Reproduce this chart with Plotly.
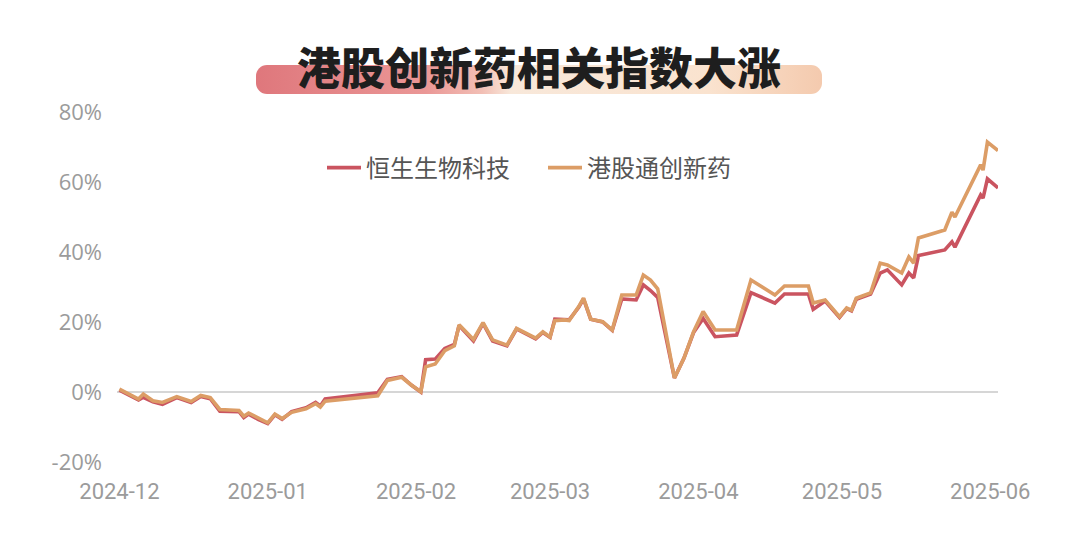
import base64
import plotly.graph_objects as go

# ---- data ----
dates = [
    "2024-12-01", "2024-12-05", "2024-12-06", "2024-12-08", "2024-12-10", "2024-12-13",
    "2024-12-16", "2024-12-18", "2024-12-20", "2024-12-22", "2024-12-26", "2024-12-27",
    "2024-12-28", "2024-12-30", "2025-01-01", "2025-01-02 12:00", "2025-01-04", "2025-01-06",
    "2025-01-09", "2025-01-11", "2025-01-12", "2025-01-13", "2025-01-24", "2025-01-26",
    "2025-01-29", "2025-01-31", "2025-02-02", "2025-02-03", "2025-02-05", "2025-02-07",
    "2025-02-09", "2025-02-10", "2025-02-13", "2025-02-15", "2025-02-17", "2025-02-20",
    "2025-02-22", "2025-02-26", "2025-02-27 12:00", "2025-03-01", "2025-03-02", "2025-03-04",
    "2025-03-05", "2025-03-07", "2025-03-08", "2025-03-09 12:00", "2025-03-12", "2025-03-14",
    "2025-03-16", "2025-03-19", "2025-03-20 12:00", "2025-03-22", "2025-03-23 12:00", "2025-03-27",
    "2025-03-28", "2025-03-29", "2025-03-31", "2025-04-02", "2025-04-04 12:00", "2025-04-09",
    "2025-04-12", "2025-04-17", "2025-04-19", "2025-04-24", "2025-04-25", "2025-04-27 12:00",
    "2025-04-30 12:00", "2025-05-02", "2025-05-03", "2025-05-04", "2025-05-07", "2025-05-09",
    "2025-05-10 12:00", "2025-05-13 12:00", "2025-05-15", "2025-05-16", "2025-05-17", "2025-05-22 12:00",
    "2025-05-24", "2025-05-24 15:00", "2025-05-30", "2025-05-30 12:00", "2025-05-31 10:00", "2025-06-02 15:00",
]
hs_biotech = [
    0.5, -2.3, -1.5, -2.8, -3.5, -1.6,
    -3.0, -1.3, -1.9, -5.5, -5.6, -7.3,
    -6.3, -7.8, -9.0, -6.5, -7.8, -5.6,
    -4.5, -3.0, -4.0, -2.0, -0.2, 3.6,
    4.4, 2.0, 0.0, 9.2, 9.4, 12.4,
    13.6, 19.0, 14.6, 19.6, 14.6, 13.2,
    18.0, 15.2, 17.0, 15.6, 20.8, 20.8,
    20.6, 24.2, 26.6, 20.8, 20.0, 17.6,
    26.6, 26.3, 30.6, 29.0, 27.0, 4.0,
    7.1, 9.7, 17.0, 21.0, 15.8, 16.3,
    28.4, 25.4, 28.0, 28.0, 23.6, 26.0,
    21.3, 23.8, 23.2, 26.5, 28.0, 34.0,
    34.9, 30.6, 34.0, 32.6, 39.0, 40.6,
    42.9, 41.4, 56.3, 55.4, 60.9, 58.3,
]
hk_innov_drug = [
    0.8, -2.0, -0.6, -2.5, -3.0, -1.3,
    -2.7, -1.0, -1.6, -5.0, -5.3, -6.9,
    -6.0, -7.4, -8.8, -6.3, -7.6, -5.8,
    -4.8, -3.3, -4.3, -2.6, -1.1, 3.3,
    4.2, 2.0, 0.1, 7.2, 8.0, 11.8,
    13.2, 19.2, 15.0, 19.8, 14.9, 13.4,
    18.2, 15.4, 17.2, 15.7, 20.4, 20.6,
    20.4, 24.4, 26.8, 20.8, 20.1, 17.7,
    27.7, 27.7, 33.4, 32.0, 29.5, 4.0,
    7.1, 9.7, 17.2, 23.0, 17.7, 17.7,
    32.0, 27.7, 30.3, 30.3, 25.4, 26.3,
    21.5, 24.0, 23.4, 26.8, 28.3, 36.8,
    36.3, 34.0, 38.6, 36.8, 44.0, 46.3,
    51.4, 50.0, 64.9, 63.4, 71.4, 69.0,
]
series_names = ["恒生生物科技", "港股通创新药"]
month_ticks = ["2024-12-01", "2025-01-01", "2025-02-01", "2025-03-01",
               "2025-04-01", "2025-05-01", "2025-06-01"]
month_labels = ["2024-12", "2025-01", "2025-02", "2025-03", "2025-04", "2025-05", "2025-06"]
y_ticks = [-20, 0, 20, 40, 60, 80]
y_labels = ["-20%", "0%", "20%", "40%", "60%", "80%"]
title_text = "港股创新药相关指数大涨"

RED = "#ca5460"
ORANGE = "#dc9d66"

# the page body has an 8px margin, so the figure is placed at (8, 8)
OFF = 8
W, H = 1077 - OFF, 551 - 2 * OFF
PLOT_L, PLOT_T, PW, PH = 117, 112, 881, 350   # plot area in window pixels
L = PLOT_L - OFF
T = PLOT_T - OFF
R = W - L - PW
B = H - T - PH


def px_x(p):
    return (p - PLOT_L) / PW


def px_y(p):
    return (PLOT_T + PH - p) / PH


fig = go.Figure()
fig.add_trace(go.Scatter(x=dates, y=hs_biotech, name=series_names[0], mode="lines",
                         line=dict(color=RED, width=3.6), cliponaxis=False))
fig.add_trace(go.Scatter(x=dates, y=hk_innov_drug, name=series_names[1], mode="lines",
                         line=dict(color=ORANGE, width=3.6), cliponaxis=False))

# title background bar (gradient pill) as an SVG image
bw, bh = 566, 29
svg = (
    f'<svg xmlns="http://www.w3.org/2000/svg" width="{bw}" height="{bh}" viewBox="0 0 {bw} {bh}">'
    '<defs><linearGradient id="g" x1="0" x2="1" y1="0" y2="0">'
    '<stop offset="0" stop-color="#df777c"/>'
    '<stop offset="0.30" stop-color="#ea9796"/>'
    '<stop offset="0.40" stop-color="#f2bfb5"/>'
    '<stop offset="0.45" stop-color="#f8e8da"/>'
    '<stop offset="0.80" stop-color="#fae3cf"/>'
    '<stop offset="1" stop-color="#f4caae"/>'
    '</linearGradient></defs>'
    f'<rect x="0" y="0" width="{bw}" height="{bh}" rx="11" ry="11" fill="url(#g)"/></svg>'
)
src = "data:image/svg+xml;base64," + base64.b64encode(svg.encode()).decode()
fig.add_layout_image(dict(source=src, xref="paper", yref="paper",
                          x=px_x(256), y=px_y(65), sizex=bw / PW, sizey=bh / PH,
                          xanchor="left", yanchor="top", sizing="stretch", layer="below"))

fig.add_annotation(text=title_text, xref="paper", yref="paper",
                   x=px_x(539), y=px_y(66), xanchor="center", yanchor="middle",
                   showarrow=False,
                   font=dict(family="Noto Sans CJK SC", size=44, color="#1e1e1e", weight=900))

fig.update_layout(
    width=W, height=H,
    margin=dict(l=L, r=R, t=T, b=B),
    paper_bgcolor="white", plot_bgcolor="white",
    showlegend=True,
    legend=dict(orientation="h", x=px_x(322), y=px_y(168), xanchor="left", yanchor="middle",
                font=dict(family="Noto Sans CJK SC", size=24, color="#555555"),
                entrywidth=172, itemwidth=34, bgcolor="rgba(0,0,0,0)"),
    xaxis=dict(type="date", range=["2024-11-30 12:00", "2025-06-02 15:00"],
               tickvals=month_ticks, ticktext=month_labels,
               showgrid=False, zeroline=False, showline=False, ticks="",
               tickfont=dict(family="Roboto", size=22, color="#9b9b9b"),
               ticklabelstandoff=14),
    xaxis2=dict(type="date", overlaying="x", matches="x", anchor="free", position=20 / 100,
                side="bottom", tickvals=month_ticks, showticklabels=False,
                ticks="outside", ticklen=5, tickcolor="#cfcfcf", tickwidth=1.5,
                showgrid=False, zeroline=False, showline=False),
    yaxis=dict(range=[-20, 80], tickvals=y_ticks, ticktext=y_labels,
               showgrid=False, zeroline=True, zerolinecolor="#d6d6d6", zerolinewidth=1.5,
               showline=False, ticks="",
               tickfont=dict(family="Open Sans", size=22, color="#9b9b9b"),
               ticklabelstandoff=14),
)

fig.write_html("out.html")
